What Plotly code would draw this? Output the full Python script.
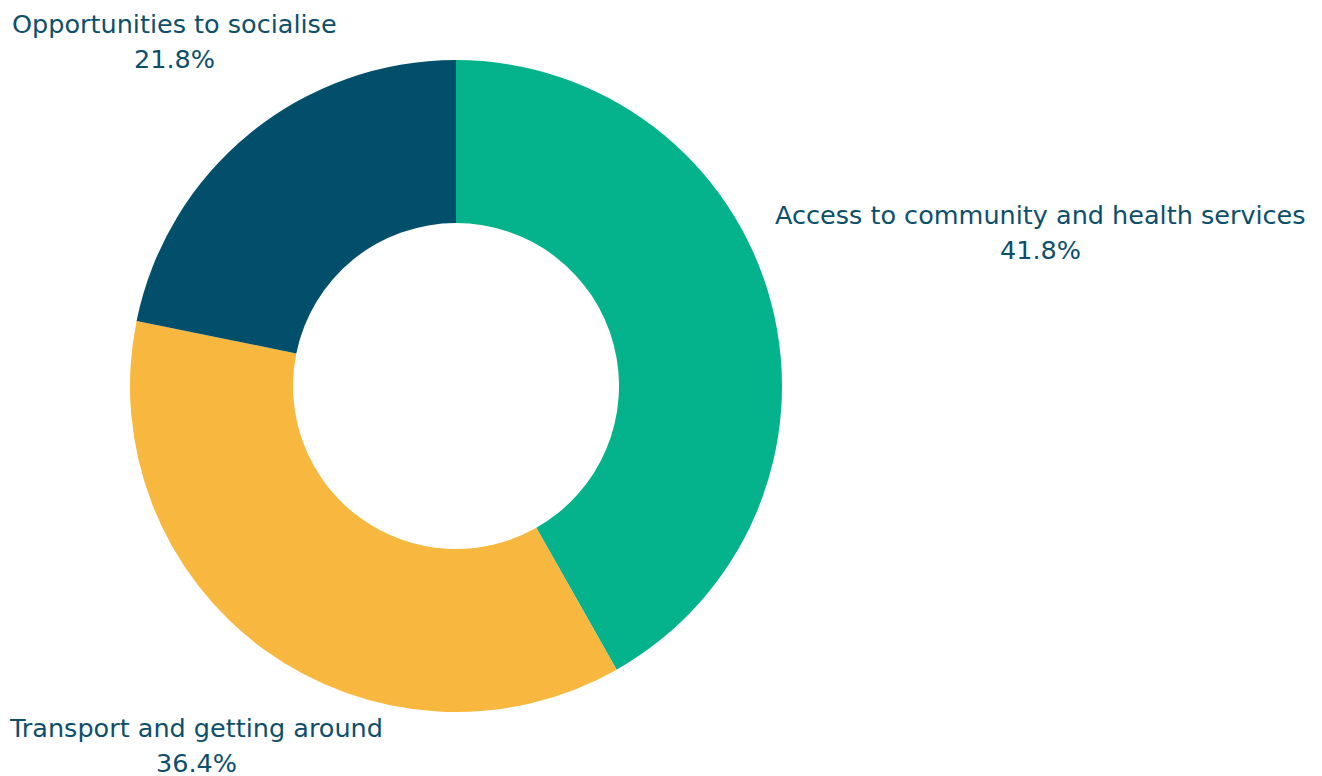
import plotly.graph_objects as go

labels = ["Access to community and health services", "Transport and getting around", "Opportunities to socialise"]
values = [41.8, 36.4, 21.8]
colors = ["#04b38b", "#f8b83f", "#024f6c"]

W, H = 1322, 776
OFF = 8  # browser body margin
# label anchor positions in pixels (center x, first-line y)
label_pos = [(1040, 215), (196, 728), (174, 24)]
cx, cy, r = 456 - OFF, 386 - OFF, 326
text_color = "#0d4f6b"
font_family = "DejaVu Sans, sans-serif"
fsize = 25.5

fig = go.Figure(go.Pie(
    labels=labels,
    values=values,
    hole=0.5,
    sort=False,
    direction="clockwise",
    rotation=0,
    marker=dict(colors=colors, line=dict(width=0)),
    textinfo="none",
    hoverinfo="label+percent",
    showlegend=False,
    domain=dict(x=[(cx - r) / W, (cx + r) / W], y=[(H - cy - r) / H, (H - cy + r) / H]),
))

annotations = []
for lab, val, (px, py) in zip(labels, values, label_pos):
    px, py = px - OFF, py - OFF
    annotations.append(dict(text=lab, x=px / W, y=1 - py / H, xref="paper", yref="paper",
                            xanchor="center", yanchor="middle", showarrow=False,
                            font=dict(size=fsize, color=text_color, family=font_family)))
    annotations.append(dict(text=f"{val:.1f}%", x=px / W, y=1 - (py + 35) / H, xref="paper", yref="paper",
                            xanchor="center", yanchor="middle", showarrow=False,
                            font=dict(size=fsize, color=text_color, family=font_family)))

fig.update_layout(
    width=W, height=H,
    margin=dict(l=0, r=0, t=0, b=0),
    paper_bgcolor="white", plot_bgcolor="white",
    annotations=annotations,
)

fig.write_html("out.html")
